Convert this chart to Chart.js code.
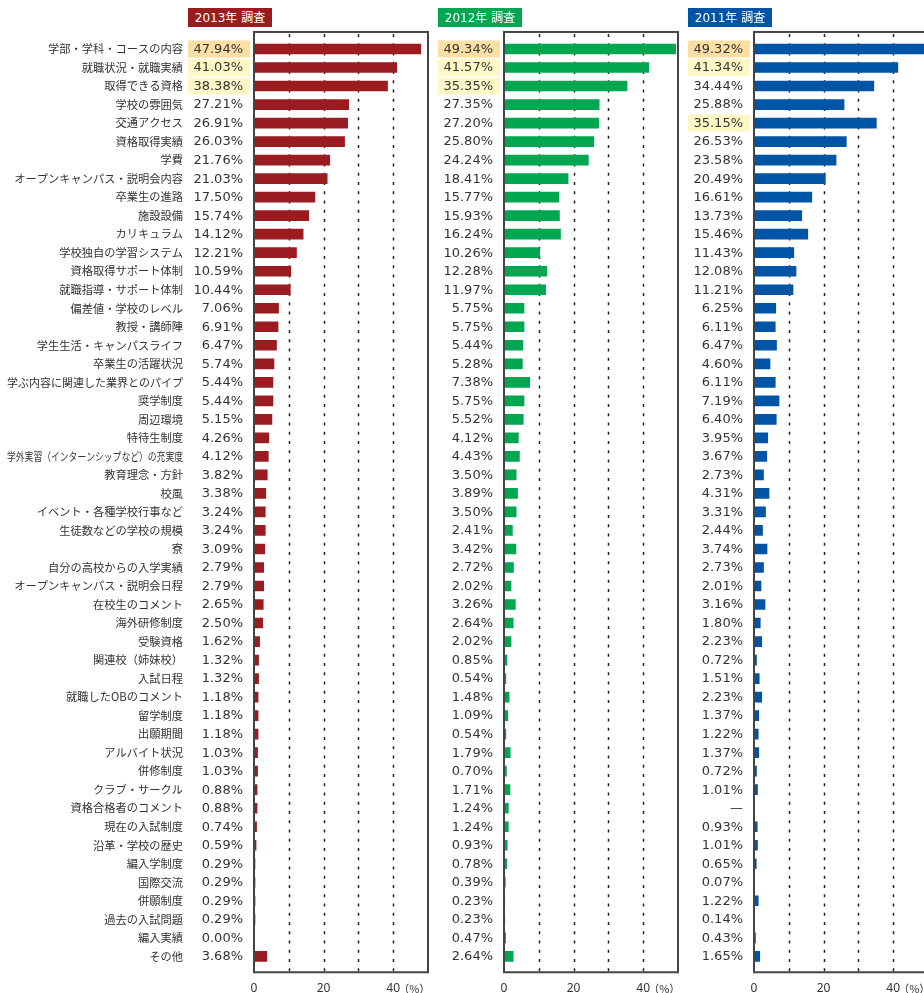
<!DOCTYPE html>
<html lang="ja">
<head>
<meta charset="utf-8">
<script src="https://cdn.jsdelivr.net/npm/chart.js@4.4.1/dist/chart.umd.min.js"></script>
<style>
  html, body { margin: 0; padding: 0; background: #fff; width: 924px; height: 993px; overflow: hidden; position: relative; }
  .panel { position: absolute; top: 0; width: 444px; height: 1017px; }
  .badge { position: absolute; top: 8px; width: 84px; height: 19px; line-height: 19px; text-align: center; color: #fff;
           font: 12px "DejaVu Sans", "Noto Sans CJK JP", sans-serif; }
</style>
</head>
<body>
<div class="panel" style="left:0"><canvas id="c2013"></canvas></div>
<div class="panel" style="left:250px"><canvas id="c2012"></canvas></div>
<div class="panel" style="left:500px"><canvas id="c2011"></canvas></div>
<div class="badge" style="left:188px;background:#9b1c20">2013年 調査</div>
<div class="badge" style="left:438px;background:#00a650">2012年 調査</div>
<div class="badge" style="left:688px;background:#0054a6">2011年 調査</div>
<script>
const categories = [
    '学部・学科・コースの内容', '就職状況・就職実績', '取得できる資格', '学校の雰囲気', '交通アクセス',
    '資格取得実績', '学費', 'オープンキャンパス・説明会内容', '卒業生の進路', '施設設備',
    'カリキュラム', '学校独自の学習システム', '資格取得サポート体制', '就職指導・サポート体制', '偏差値・学校のレベル',
    '教授・講師陣', '学生生活・キャンパスライフ', '卒業生の活躍状況', '学ぶ内容に関連した業界とのパイプ', '奨学制度',
    '周辺環境', '特待生制度', '学外実習（インターンシップなど）の充実度', '教育理念・方針', '校風',
    'イベント・各種学校行事など', '生徒数などの学校の規模', '寮', '自分の高校からの入学実績', 'オープンキャンパス・説明会日程',
    '在校生のコメント', '海外研修制度', '受験資格', '関連校（姉妹校）', '入試日程',
    '就職したOBのコメント', '留学制度', '出願期間', 'アルバイト状況', '併修制度',
    'クラブ・サークル', '資格合格者のコメント', '現在の入試制度', '沿革・学校の歴史', '編入学制度',
    '国際交流', '併願制度', '過去の入試問題', '編入実績', 'その他'
];

const values2013 = [
    47.94, 41.03, 38.38, 27.21, 26.91, 26.03, 21.76, 21.03, 17.50, 15.74,
    14.12, 12.21, 10.59, 10.44, 7.06, 6.91, 6.47, 5.74, 5.44, 5.44,
    5.15, 4.26, 4.12, 3.82, 3.38, 3.24, 3.24, 3.09, 2.79, 2.79,
    2.65, 2.50, 1.62, 1.32, 1.32, 1.18, 1.18, 1.18, 1.03, 1.03,
    0.88, 0.88, 0.74, 0.59, 0.29, 0.29, 0.29, 0.29, 0.00, 3.68
];

const values2012 = [
    49.34, 41.57, 35.35, 27.35, 27.20, 25.80, 24.24, 18.41, 15.77, 15.93,
    16.24, 10.26, 12.28, 11.97, 5.75, 5.75, 5.44, 5.28, 7.38, 5.75,
    5.52, 4.12, 4.43, 3.50, 3.89, 3.50, 2.41, 3.42, 2.72, 2.02,
    3.26, 2.64, 2.02, 0.85, 0.54, 1.48, 1.09, 0.54, 1.79, 0.70,
    1.71, 1.24, 1.24, 0.93, 0.78, 0.39, 0.23, 0.23, 0.47, 2.64
];

// null = not surveyed that year (shown as "—")
const values2011 = [
    49.32, 41.34, 34.44, 25.88, 35.15, 26.53, 23.58, 20.49, 16.61, 13.73,
    15.46, 11.43, 12.08, 11.21, 6.25, 6.11, 6.47, 4.60, 6.11, 7.19,
    6.40, 3.95, 3.67, 2.73, 4.31, 3.31, 2.44, 3.74, 2.73, 2.01,
    3.16, 1.80, 2.23, 0.72, 1.51, 2.23, 1.37, 1.22, 1.37, 0.72,
    1.01, null, 0.93, 1.01, 0.65, 0.07, 1.22, 0.14, 0.43, 1.65
];

const xTickLabels = [0, 20, 40];
const xGridValues = [10, 20, 30, 40];
const xTickPad = 16;

Chart.defaults.font.family = '"Noto Sans", "Noto Sans CJK JP", sans-serif';
Chart.defaults.color = '#333';

// indices of the 3 largest values -> highlighted cells
function topThree(values) {
    return values
        .map((v, i) => ({v, i}))
        .filter(d => d.v !== null)
        .sort((a, b) => b.v - a.v)
        .slice(0, 3)
        .map(d => d.i);
}

const decoPlugin = {
    id: 'deco',
    beforeDatasetsDraw(chart) {
        const {ctx, chartArea: a, scales: {x}} = chart;
        const band = (a.bottom - a.top) / categories.length;
        const top = a.top - band * 0.42;
        const bottom = a.bottom + band * 0.36;
        ctx.save();
        ctx.strokeStyle = '#222';
        ctx.lineWidth = 1.5;
        ctx.setLineDash([3, 6.25]);
        xGridValues.forEach(v => {
            const px = Math.round(x.getPixelForValue(v)) + 0.5;
            ctx.beginPath();
            ctx.moveTo(px, top + 2);
            ctx.lineTo(px, bottom);
            ctx.stroke();
        });
        ctx.restore();
    },
    afterDatasetsDraw(chart) {
        const {ctx, chartArea: a} = chart;
        const band = (a.bottom - a.top) / categories.length;
        const top = a.top - band * 0.42;
        const bottom = a.bottom + band * 0.36;
        ctx.save();
        ctx.strokeStyle = '#444';
        ctx.lineWidth = 2;
        ctx.strokeRect(a.left, top, a.right - a.left, bottom - top);
        ctx.restore();
    },
    afterDraw(chart, args, opts) {
        const {ctx, scales: {x, y}} = chart;
        const values = chart.data.datasets[0].data;
        const zero = x.getPixelForValue(0);
        const top3 = topThree(values);
        ctx.save();
        ctx.textBaseline = 'middle';
        categories.forEach((cat, i) => {
            const py = y.getPixelForValue(i);
            const rank = top3.indexOf(i);
            if (rank >= 0) {
                ctx.fillStyle = rank === 0 ? '#fcdfa2' : '#fff8c6';
                ctx.fillRect(zero - 66, py - 8.5, 62, 17);
            }
            ctx.fillStyle = '#333';
            ctx.textAlign = 'right';
            ctx.font = '13px "DejaVu Sans", sans-serif';
            const v = values[i];
            ctx.fillText(v === null ? '—' : v.toFixed(2) + '%', zero - 11, py + 0.5);
            if (opts.showLabels) {
                ctx.font = '11.25px "Noto Sans CJK JP", sans-serif';
                ctx.fillText(cat, zero - 71, py, 176);
            }
        });
        ctx.font = '11px "Noto Sans CJK JP", sans-serif';
        ctx.textAlign = 'left';
        ctx.fillText('（%）', x.getPixelForValue(40) + 5, x.top + xTickPad + 7);
        ctx.restore();
    }
};

function makeChart(id, values, color, showLabels) {
    const ctx = document.getElementById(id).getContext('2d');
    return new Chart(ctx, {
        type: 'bar',
        data: {
            labels: categories,
            datasets: [{
                data: values,
                backgroundColor: color,
                barThickness: 10,
                borderWidth: 0
            }]
        },
        plugins: [decoPlugin],
        options: {
            indexAxis: 'y',
            responsive: true,
            maintainAspectRatio: false,
            animation: false,
            layout: {padding: {left: 254, right: 8, top: 39.75, bottom: 5}},
            plugins: {
                legend: {display: false},
                tooltip: {enabled: false},
                deco: {showLabels}
            },
            scales: {
                y: {
                    type: 'category',
                    offset: true,
                    display: false
                },
                x: {
                    min: 0,
                    max: 50,
                    grid: {display: false, drawTicks: false},
                    border: {display: false},
                    ticks: {
                        stepSize: 10,
                        padding: xTickPad,
                        maxRotation: 0,
                        autoSkip: false,
                        font: {size: 12},
                        callback: v => xTickLabels.includes(v) ? String(v) : ''
                    }
                }
            }
        }
    });
}

makeChart('c2013', values2013, '#9b1c20', true);
makeChart('c2012', values2012, '#00a650', false);
makeChart('c2011', values2011, '#0054a6', false);
</script>
</body>
</html>
